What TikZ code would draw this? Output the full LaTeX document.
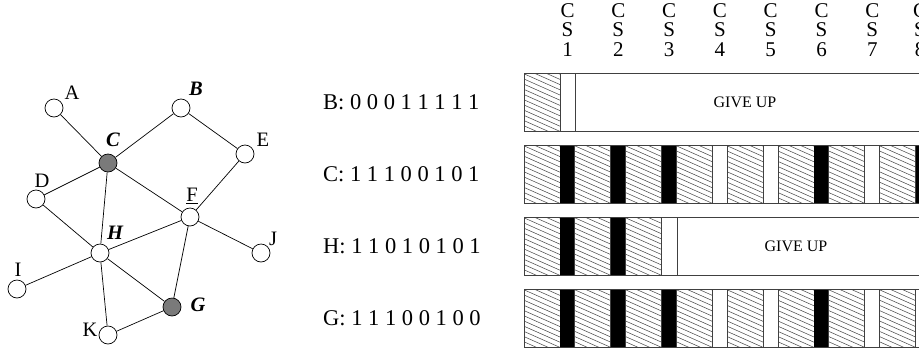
\documentclass[tikz,border=0pt]{standalone}
\usepackage{fontspec}
\setmainfont{Liberation Serif}
\begin{document}
\begin{tikzpicture}[x=1pt,y=-1pt,
  vertex/.style={circle,draw,line width=0.7pt,fill=white,minimum size=18pt,inner sep=0pt},
  relay/.style={vertex,fill=black!52},
  edge/.style={line width=0.7pt},
  lbl/.style={inner sep=0pt,font=\fontsize{20.5}{20}\selectfont},
  keylbl/.style={lbl,font=\fontsize{20.5}{20}\selectfont\bfseries\itshape},
  rowlbl/.style={inner sep=0pt,anchor=west,font=\fontsize{22.5}{22}\selectfont},
  cslbl/.style={inner sep=0pt,anchor=north,align=center,font=\fontsize{21}{19.5}\selectfont},
  giveup/.style={inner sep=0pt,font=\fontsize{16}{16}\selectfont},
  frame/.style={draw=black!75,line width=0.8pt},
  hatchline/.style={draw=black!70,line width=0.55pt}
]
\useasboundingbox (0,0) rectangle (919,349);
\clip (0,0) rectangle (919,349);

% ---------- network graph ----------
\node[vertex] (A) at (54,108) {};
\node[vertex] (B) at (181,108) {};
\node[relay]  (C) at (108,163) {};
\node[vertex] (D) at (36,199) {};
\node[vertex] (E) at (245,154) {};
\node[vertex] (F) at (190,217) {};
\node[vertex] (H) at (100,253) {};
\node[vertex] (I) at (17,289) {};
\node[vertex] (J) at (261,253) {};
\node[relay]  (G) at (172,307) {};
\node[vertex] (K) at (108,335) {};

\foreach \u/\v in {A/C,B/C,B/E,E/F,C/D,C/F,C/H,D/H,F/H,F/J,F/G,H/I,H/G,H/K,K/G}
  \draw[edge] (\u) -- (\v);

\node[lbl]    (lA) at (72,93)  {A};
\node[keylbl] (lB) at (196,89) {B};
\node[keylbl] (lC) at (113,140) {C};
\node[lbl]    (lD) at (42,181) {D};
\node[lbl]    (lE) at (263,140) {E};
\node[lbl]    (lF) at (192,196) {\underline{F}};
\node[keylbl] (lH) at (115,233) {H};
\node[lbl]    (lI) at (18,270) {I};
\node[lbl]    (lJ) at (273,239) {J};
\node[keylbl] (lG) at (198,305) {G};
\node[lbl]    (lK) at (90,330) {K};

% ---------- row labels ----------
\node[rowlbl] (rB) at (323,102) {B: 0 0 0 1 1 1 1 1};
\node[rowlbl] (rC) at (323,174) {C: 1 1 1 0 0 1 0 1};
\node[rowlbl] (rH) at (323,246) {H: 1 1 0 1 0 1 0 1};
\node[rowlbl] (rG) at (323,318) {G: 1 1 1 0 0 1 0 0};

% ---------- column headers ----------
\foreach \k in {1,...,7}
  \node[cslbl] (cs\k) at ({567.5+50.8*(\k-1)},3) {C\\S\\\k};
\node[cslbl] (cs8) at (920,3) {C\\S\\8};

% ---------- slot bars ----------
% hatched block: \hblock{x}{y}
\newcommand{\hblock}[2]{%
  \begin{scope}
    \clip (#1,#2) rectangle ++(36,58);
    \foreach \t in {-20,-14.8,...,80}
      \draw[hatchline] (#1,#2+\t) -- ++(36,16);
  \end{scope}
  \draw[frame] (#1,#2) rectangle ++(36,58);
}
% slot: \slotcell{x}{y}{bit}
\newcommand{\slotcell}[3]{%
  \ifnum#3=1 \fill[black] (#1,#2) rectangle ++(15,58);\fi
}

% row B
\hblock{524}{73}
\draw[frame] (524,73) rectangle (940,131);
\draw[frame] (575,73) -- (575,131);
\node[giveup] (gB) at (745,102) {GIVE UP};

% row C
\foreach \b [count=\k from 0] in {1,1,1,0,0,1,0,1} {
  \hblock{524+50.8*\k}{145}
  \slotcell{560+50.8*\k}{145}{\b}
}
\hblock{930.4}{145}
\draw[frame] (524,145) rectangle (940,203);

% row H
\foreach \b [count=\k from 0] in {1,1,0} {
  \hblock{524+50.8*\k}{217}
  \slotcell{560+50.8*\k}{217}{\b}
}
\draw[frame] (524,217) rectangle (940,275);
\draw[frame] (677,217) -- (677,275);
\node[giveup] (gH) at (796,246) {GIVE UP};

% row G
\foreach \b [count=\k from 0] in {1,1,1,0,0,1,0,0} {
  \hblock{524+50.8*\k}{289}
  \slotcell{560+50.8*\k}{289}{\b}
}
\hblock{930.4}{289}
\draw[frame] (524,289) rectangle (940,347);
\end{tikzpicture}
\end{document}
